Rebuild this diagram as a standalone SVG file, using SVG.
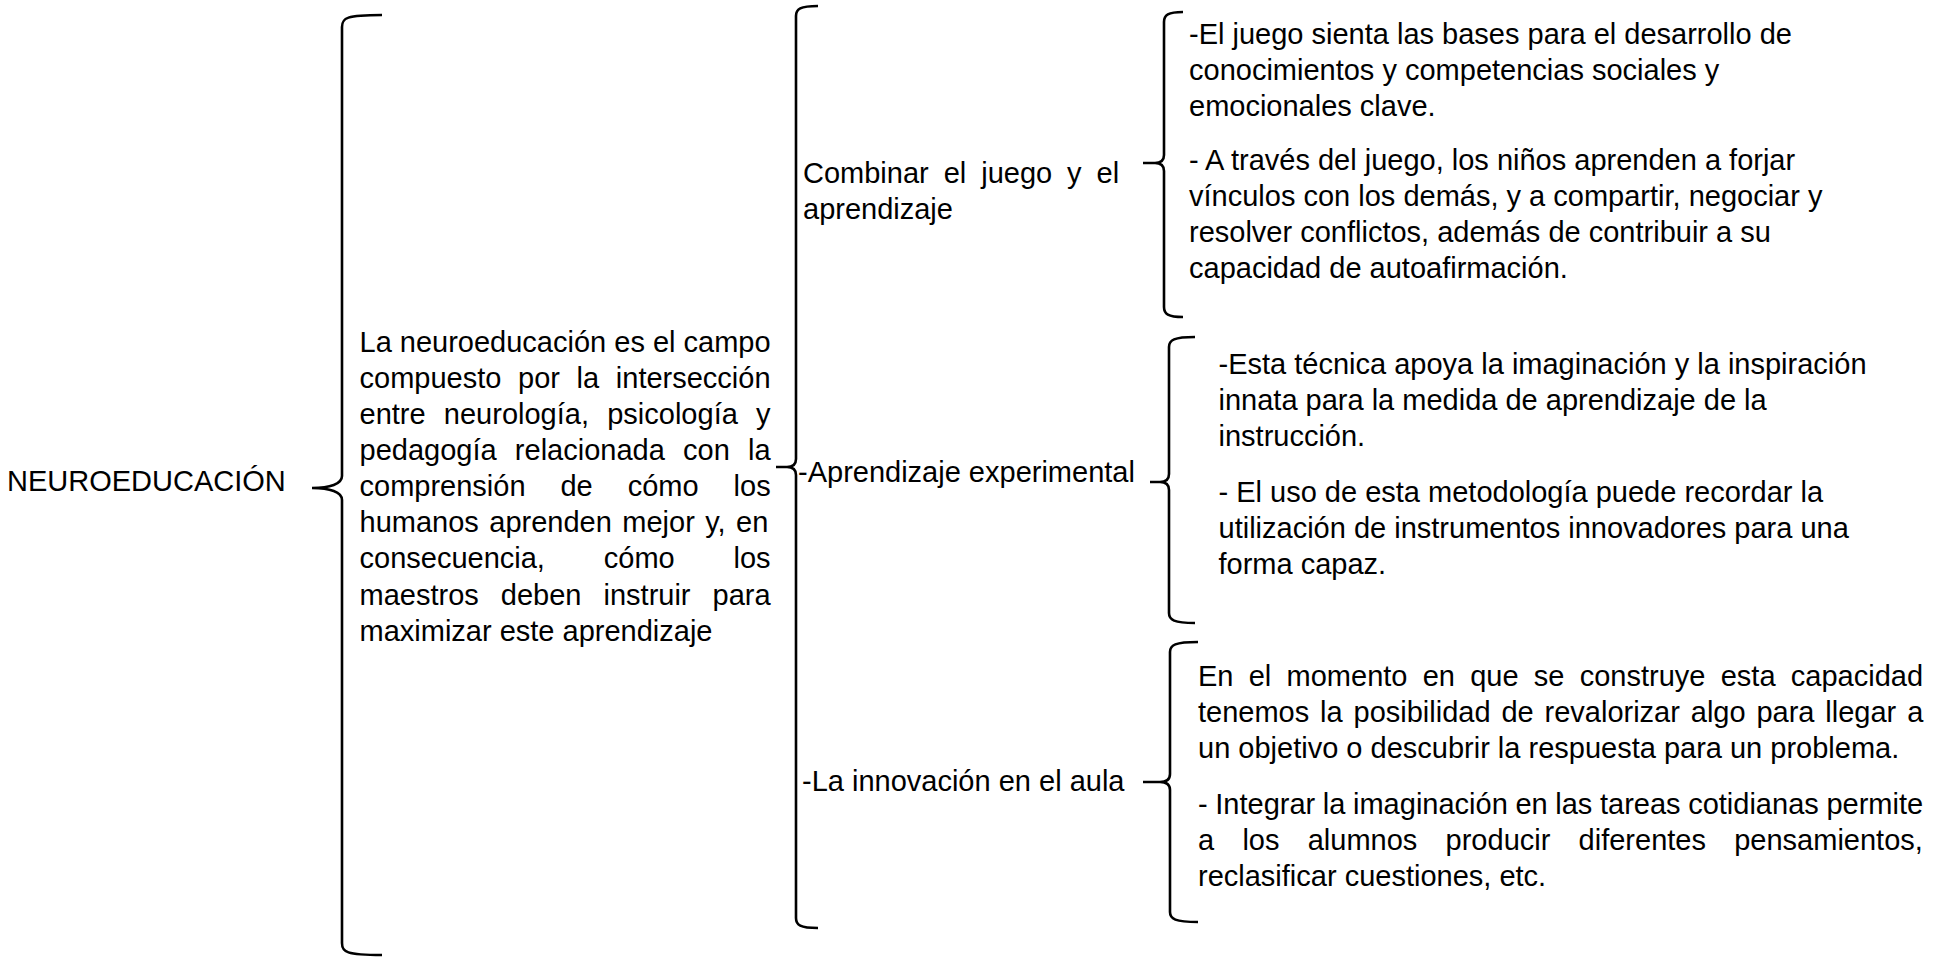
<svg xmlns="http://www.w3.org/2000/svg" width="1942" height="958" viewBox="0 0 1942 958">
<style>
text{font-family:"Liberation Sans",Arial,sans-serif;font-size:29px;fill:#000}
.br{fill:none;stroke:#000;stroke-width:2.6;stroke-linecap:butt;stroke-linejoin:round}
</style>
<rect width="1942" height="958" fill="#fff"/>
<g id="connectors">
<path class="br" d="M382,15 C346,15 342,18 342,27 L342,476 C342,484 330,488 312,488 M312,488 C330,488 342,492 342,500 L342,943 C342,952 346,955 382,955"/>
<path class="br" d="M818,6 C800,6 796,9 796,16 L796,459 Q796,467 787,467 L776,467 M787,467 Q796,467 796,475 L796,918 C796,925 800,928 818,928"/>
<path class="br" d="M1183,12 C1168,12 1164,15 1164,22 L1164,155 Q1164,163 1155,163 L1143,163 M1155,163 Q1164,163 1164,171 L1164,307 C1164,314 1168,317 1183,317"/>
<path class="br" d="M1195,337 C1174,337 1169,340 1169,347 L1169,474 Q1169,482 1160,482 L1150,482 M1160,482 Q1169,482 1169,490 L1169,613 C1169,620 1174,623 1195,623"/>
<path class="br" d="M1198,642 C1175,642 1170,645 1170,652 L1170,774 Q1170,782 1160,782 L1143,782 M1160,782 Q1170,782 1170,790 L1170,912 C1170,919 1175,922 1198,922"/>
</g>
<g id="root"><text x="7" y="491">NEUROEDUCACIÓN</text></g>
<g id="definicion">
<text x="359.5" y="352">La neuroeducación es el campo</text>
<text x="359.5" y="388" word-spacing="8.6">compuesto por la intersección</text>
<text x="359.5" y="424" word-spacing="10.2">entre neurología, psicología y</text>
<text x="359.5" y="460" word-spacing="10.2">pedagogía relacionada con la</text>
<text x="359.5" y="496" word-spacing="26.9">comprensión de cómo los</text>
<text x="359.5" y="532" word-spacing="2.4">humanos aprenden mejor y, en</text>
<text x="359.5" y="568" word-spacing="50.8">consecuencia, cómo los</text>
<text x="359.5" y="605" word-spacing="14">maestros deben instruir para</text>
<text x="359.5" y="641">maximizar este aprendizaje</text>
</g>
<g id="n-juego">
<text x="803" y="183" word-spacing="6.9">Combinar el juego y el</text>
<text x="803" y="219">aprendizaje</text>
</g>
<g id="n-aprendizaje"><text x="798" y="482">-Aprendizaje experimental</text></g>
<g id="n-innovacion"><text x="802" y="791">-La innovación en el aula</text></g>
<g id="d-juego">
<text x="1189" y="44">-El juego sienta las bases para el desarrollo de</text>
<text x="1189" y="80">conocimientos y competencias sociales y</text>
<text x="1189" y="116">emocionales clave.</text>
<text x="1189" y="170">- A través del juego, los niños aprenden a forjar</text>
<text x="1189" y="206">vínculos con los demás, y a compartir, negociar y</text>
<text x="1189" y="242">resolver conflictos, además de contribuir a su</text>
<text x="1189" y="278">capacidad de autoafirmación.</text>
</g>
<g id="d-aprendizaje">
<text x="1218.5" y="374">-Esta técnica apoya la imaginación y la inspiración</text>
<text x="1218.5" y="410">innata para la medida de aprendizaje de la</text>
<text x="1218.5" y="446">instrucción.</text>
<text x="1218.5" y="502">- El uso de esta metodología puede recordar la</text>
<text x="1218.5" y="538">utilización de instrumentos innovadores para una</text>
<text x="1218.5" y="574">forma capaz.</text>
</g>
<g id="d-innovacion">
<text x="1198" y="686" word-spacing="7.2">En el momento en que se construye esta capacidad</text>
<text x="1198" y="722" word-spacing="2.8">tenemos la posibilidad de revalorizar algo para llegar a</text>
<text x="1198" y="758">un objetivo o descubrir la respuesta para un problema.</text>
<text x="1198" y="814" word-spacing="-0.44">- Integrar la imaginación en las tareas cotidianas permite</text>
<text x="1198" y="850" word-spacing="20.2">a los alumnos producir diferentes pensamientos,</text>
<text x="1198" y="886">reclasificar cuestiones, etc.</text>
</g>
</svg>
